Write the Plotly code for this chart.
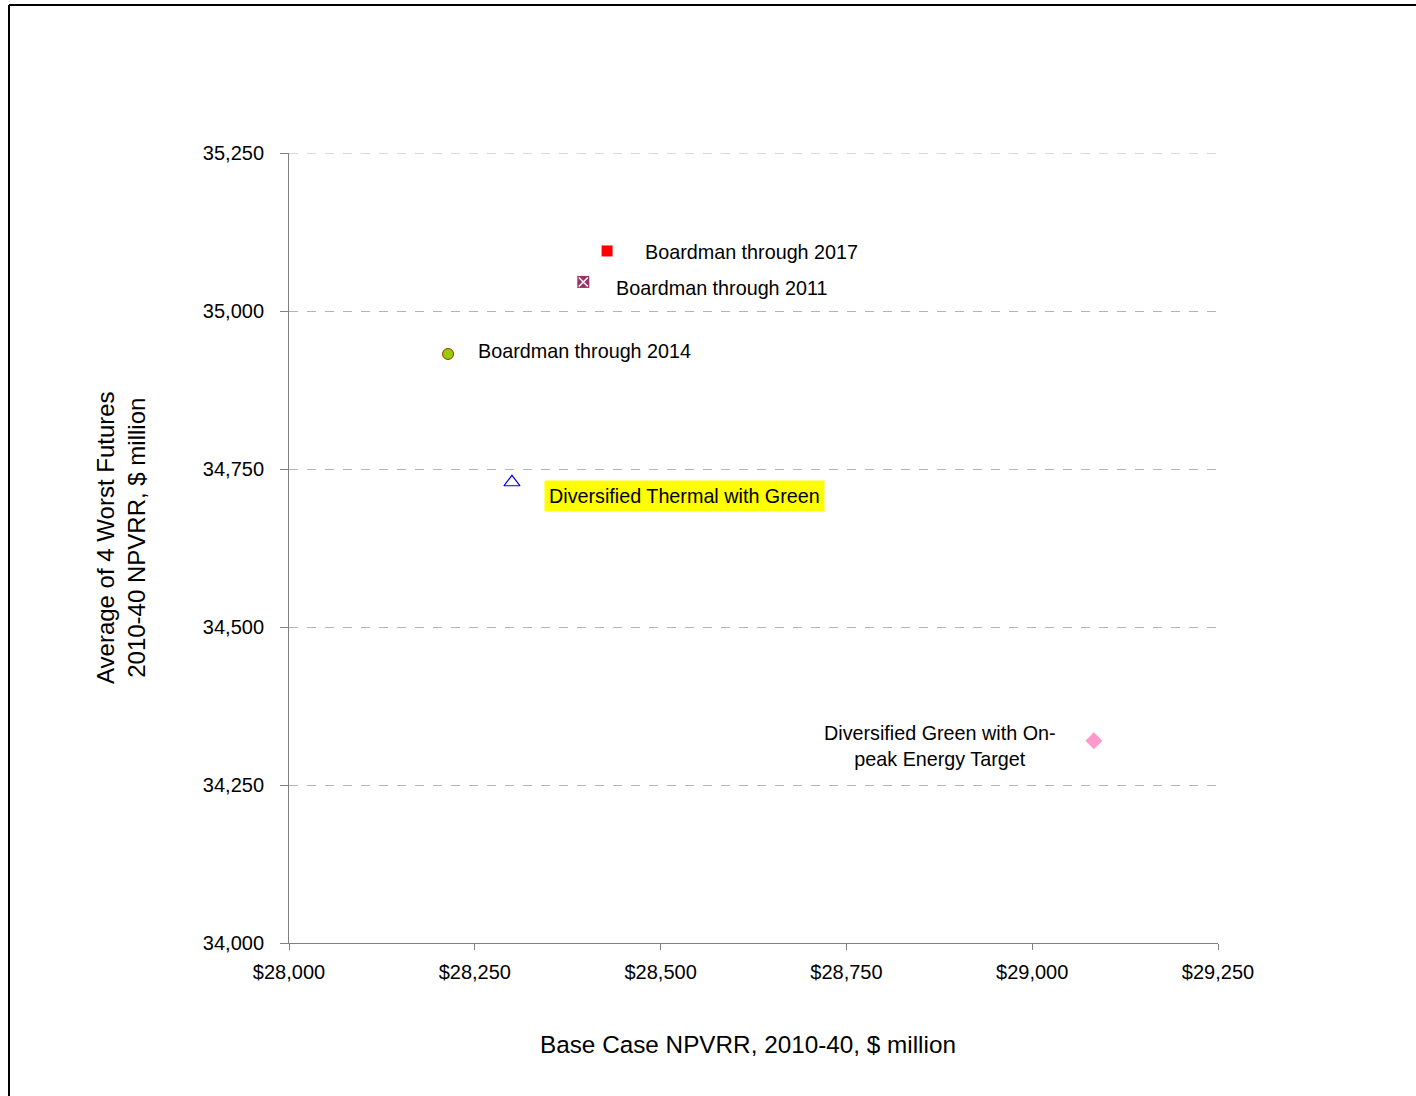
import plotly.graph_objects as go

# Portfolio results: base-case cost vs. average of the four worst futures
names = [
    "Boardman through 2017",
    "Boardman through 2011",
    "Boardman through 2014",
    "Diversified Thermal with Green",
    "Diversified Green with On-peak Energy Target",
]
base_npvrr = [28428, 28396, 28214, 28300, 29083]
worst4_npvrr = [35095, 35046, 34932, 34729, 34320]

x_ticks = [28000, 28250, 28500, 28750, 29000, 29250]
x_tick_text = ["$28,000", "$28,250", "$28,500", "$28,750", "$29,000", "$29,250"]
y_ticks = [34000, 34250, 34500, 34750, 35000, 35250]
y_tick_text = ["34,000", "34,250", "34,500", "34,750", "35,000", "35,250"]

FONT = "Liberation Sans, Arial, sans-serif"
GRID = "#B4B4B4"
fig = go.Figure()

# Boardman through 2017: red square
fig.add_trace(go.Scatter(x=[base_npvrr[0]], y=[worst4_npvrr[0]], mode="markers",
                         marker=dict(symbol="square", size=11, color="#FF0000"),
                         showlegend=False))
# Boardman through 2011: purple square with white cross
fig.add_trace(go.Scatter(x=[base_npvrr[1]], y=[worst4_npvrr[1]], mode="markers",
                         marker=dict(symbol="square", size=12, color="#993366"),
                         showlegend=False))
fig.add_trace(go.Scatter(x=[base_npvrr[1]], y=[worst4_npvrr[1]], mode="markers",
                         marker=dict(symbol="x-thin", size=9, color="white",
                                     line=dict(color="white", width=1.5)),
                         showlegend=False))
# Boardman through 2014: green circle with brown outline
fig.add_trace(go.Scatter(x=[base_npvrr[2]], y=[worst4_npvrr[2]], mode="markers",
                         marker=dict(symbol="circle", size=11, color="#99CC00",
                                     line=dict(color="#993300", width=1)),
                         showlegend=False))
# Diversified Thermal with Green: open blue triangle
fig.add_trace(go.Scatter(x=[base_npvrr[3]], y=[worst4_npvrr[3]], mode="markers",
                         marker=dict(symbol="triangle-up-open", size=14, color="#0000FF",
                                     line=dict(color="#0000FF", width=1.2)),
                         showlegend=False))
# Diversified Green with On-peak Energy Target: pink diamond
fig.add_trace(go.Scatter(x=[base_npvrr[4]], y=[worst4_npvrr[4]], mode="markers",
                         marker=dict(symbol="diamond", size=13, color="#FF99CC"),
                         showlegend=False))

lbl = dict(font=dict(family=FONT, size=19.75, color="black"), showarrow=False)
annotations = [
    dict(x=base_npvrr[0] + 48, y=worst4_npvrr[0] - 2, text=names[0], xanchor="left", yanchor="middle", **lbl),
    dict(x=base_npvrr[1] + 41, y=worst4_npvrr[1] - 9, text=names[1], xanchor="left", yanchor="middle", **lbl),
    dict(x=base_npvrr[2] + 38, y=worst4_npvrr[2] + 5, text=names[2], xanchor="left", yanchor="middle", **lbl),
    dict(x=base_npvrr[3] + 43, y=worst4_npvrr[3] - 22, text=names[3], xanchor="left", yanchor="middle",
         bgcolor="#FFFF00", borderpad=4, **lbl),
    dict(x=base_npvrr[4] - 207, y=worst4_npvrr[4] - 8, text="Diversified Green with On-<br>peak Energy Target",
         xanchor="center", yanchor="middle", align="center", **lbl),
    # vertical axis title
    dict(xref="paper", yref="paper", x=-0.1808, y=0.5127, xanchor="center", yanchor="middle",
         text="Average of 4 Worst Futures<br>2010-40 NPVRR, $ million", textangle=-90,
         align="center", font=dict(family=FONT, size=24, color="black"), showarrow=False),
    # horizontal axis title
    dict(xref="paper", yref="paper", x=0.494, y=-0.1291, xanchor="center", yanchor="middle",
         text="Base Case NPVRR, 2010-40, $ million",
         font=dict(family=FONT, size=24.3, color="black"), showarrow=False),
]

shapes = [
    # outer chart-area frame (left and top edges visible)
    dict(type="line", xref="paper", yref="paper", x0=-0.3014, x1=-0.3014, y0=-0.25, y1=1.1873,
         line=dict(color="black", width=2)),
    dict(type="line", xref="paper", yref="paper", x0=-0.3014, x1=1.3, y0=1.1873, y1=1.1873,
         line=dict(color="black", width=2)),
    # top gridline at the last y tick
    dict(type="line", xref="paper", yref="y", x0=0, x1=1, y0=y_ticks[-1], y1=y_ticks[-1],
         line=dict(color=GRID, width=1, dash="dash"), layer="below"),
]

fig.update_layout(
    width=1416, height=1096,
    margin=dict(l=289, r=198, t=153, b=153),
    paper_bgcolor="white", plot_bgcolor="white",
    font=dict(family=FONT, size=20, color="black"),
    annotations=annotations,
    shapes=shapes,
    xaxis=dict(
        range=[28000, 29250], tickvals=x_ticks, ticktext=x_tick_text,
        showgrid=False, zeroline=False,
        showline=True, linecolor="#808080", linewidth=1,
        ticks="outside", ticklen=6, tickcolor="#808080",
        tickfont=dict(family=FONT, size=20), ticklabelstandoff=5,
    ),
    yaxis=dict(
        range=[34000, 35250], tickvals=y_ticks, ticktext=y_tick_text,
        showgrid=True, gridcolor=GRID, griddash="dash", gridwidth=1,
        zeroline=False,
        showline=True, linecolor="#808080", linewidth=1,
        ticks="outside", ticklen=8, tickcolor="#808080",
        tickfont=dict(family=FONT, size=20), ticklabelstandoff=12,
    ),
)

fig.write_html("out.html")
